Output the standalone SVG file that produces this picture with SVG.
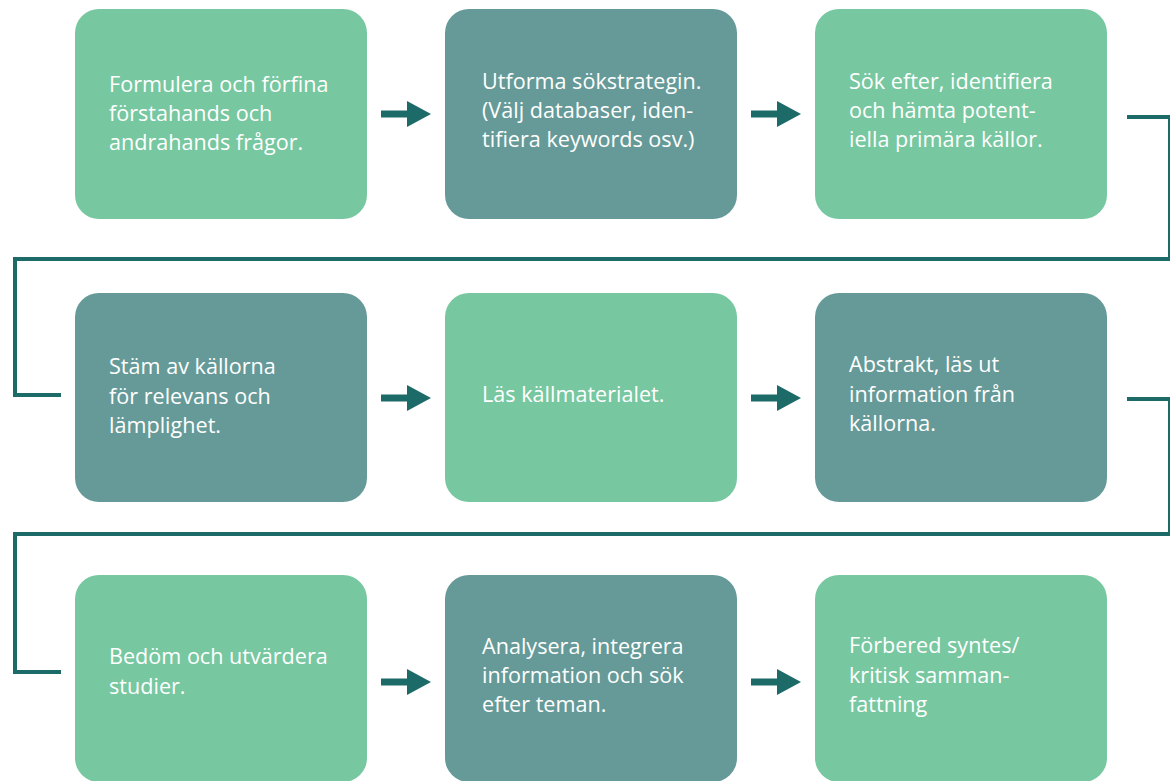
<svg xmlns="http://www.w3.org/2000/svg" width="1170" height="781" viewBox="0 0 1170 781">
<style>
.lt{fill:#77c7a0}
.dk{fill:#659a98}
.t{fill:#ffffff;font-family:"Open Sans","Liberation Sans",sans-serif;font-size:21.6px}
.c{fill:none;stroke:#1d6b68;stroke-width:4}
.a{fill:#1d6b68}
</style>
<rect width="1170" height="781" fill="#ffffff"/>
<defs>
<g id="arr"><rect x="0" y="-3.5" width="27" height="7"/><polygon points="26,-13 50,0 26,13"/></g>
</defs>
<g id="n1"><rect class="lt" x="75" y="9" width="292" height="210" rx="24"/><text class="t" x="109"><tspan x="109" y="92">Formulera och förfina</tspan><tspan x="109" y="121">förstahands och</tspan><tspan x="109" y="150">andrahands frågor.</tspan></text></g>
<g id="n2"><rect class="dk" x="445" y="9" width="292" height="210" rx="24"/><text class="t"><tspan x="482" y="89">Utforma sökstrategin.</tspan><tspan x="482" y="118">(Välj databaser, iden-</tspan><tspan x="482" y="147">tifiera keywords osv.)</tspan></text></g>
<g id="n3"><rect class="lt" x="815" y="9" width="292" height="210" rx="24"/><text class="t"><tspan x="849" y="89">Sök efter, identifiera</tspan><tspan x="849" y="118">och hämta potent-</tspan><tspan x="849" y="147">iella primära källor.</tspan></text></g>
<g id="n4"><rect class="dk" x="75" y="293" width="292" height="209" rx="24"/><text class="t"><tspan x="109" y="374">Stäm av källorna</tspan><tspan x="109" y="404">för relevans och</tspan><tspan x="109" y="433">lämplighet.</tspan></text></g>
<g id="n5"><rect class="lt" x="445" y="293" width="292" height="209" rx="24"/><text class="t"><tspan x="482" y="402">Läs källmaterialet.</tspan></text></g>
<g id="n6"><rect class="dk" x="815" y="293" width="292" height="209" rx="24"/><text class="t"><tspan x="849" y="372">Abstrakt, läs ut</tspan><tspan x="849" y="402">information från</tspan><tspan x="849" y="431">källorna.</tspan></text></g>
<g id="n7"><rect class="lt" x="75" y="575" width="292" height="207" rx="24"/><text class="t"><tspan x="109" y="664">Bedöm och utvärdera</tspan><tspan x="109" y="694">studier.</tspan></text></g>
<g id="n8"><rect class="dk" x="445" y="575" width="292" height="207" rx="24"/><text class="t"><tspan x="482" y="654">Analysera, integrera</tspan><tspan x="482" y="683">information och sök</tspan><tspan x="482" y="712">efter teman.</tspan></text></g>
<g id="n9"><rect class="lt" x="815" y="575" width="292" height="207" rx="24"/><text class="t"><tspan x="849" y="653">Förbered syntes/</tspan><tspan x="849" y="683">kritisk samman-</tspan><tspan x="849" y="712">fattning</tspan></text></g>
<g id="connectors">
<g class="a">
<use href="#arr" x="381" y="114"/>
<use href="#arr" x="751" y="114"/>
<use href="#arr" x="381" y="398"/>
<use href="#arr" x="751" y="398"/>
<use href="#arr" x="381" y="682"/>
<use href="#arr" x="751" y="682"/>
</g>
<polyline class="c" points="1127,117 1170,117 1170,259 15,259 15,395 61,395"/>
<polyline class="c" points="1127,399 1170,399 1170,534 15,534 15,672 61,672"/>
</g>
</svg>
